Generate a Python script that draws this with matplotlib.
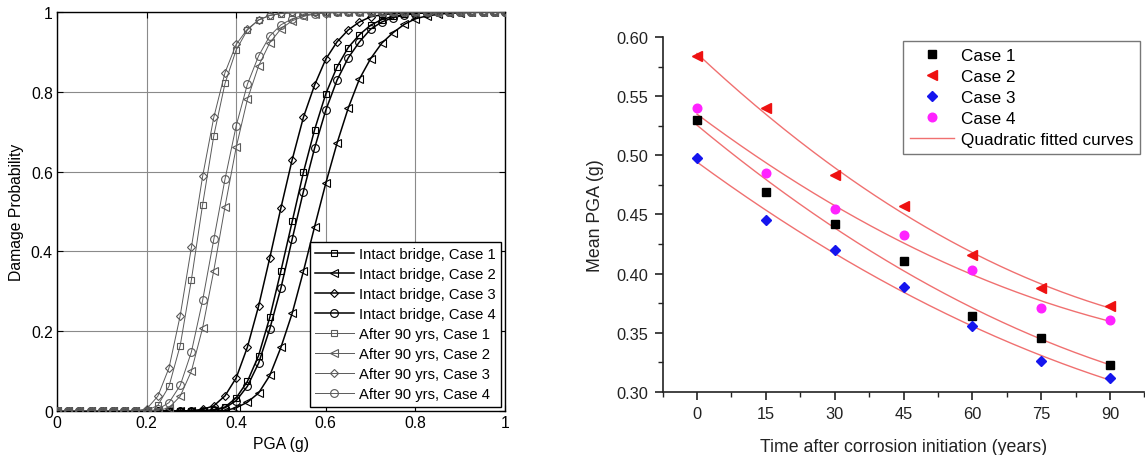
import numpy as np
import matplotlib
matplotlib.use("Agg")
import matplotlib.pyplot as plt
from matplotlib.ticker import MultipleLocator, FormatStrFormatter
from matplotlib.lines import Line2D

plt.rcParams['font.family'] = ['Liberation Sans', 'DejaVu Sans']

# ---------------- Left panel data: fragility curves ----------------
pga = [0, 0.025, 0.05, 0.075, 0.1, 0.125, 0.15, 0.175, 0.2, 0.225,
       0.25, 0.275, 0.3, 0.325, 0.35, 0.375, 0.4, 0.425, 0.45, 0.475,
       0.5, 0.525, 0.55, 0.575, 0.6, 0.625, 0.65, 0.675, 0.7, 0.725,
       0.75, 0.775, 0.8, 0.825, 0.85, 0.875, 0.9, 0.925, 0.95, 0.975, 1.0]

intact_case1 = [0, 0, 0, 0, 0, 0, 0, 0, 0, 0, 0, 0, 0, 0.001, 0.003, 0.010, 0.033, 0.074, 0.139, 0.235,
                0.352, 0.475, 0.598, 0.705, 0.795, 0.862, 0.911, 0.943, 0.967, 0.981,
                0.989, 0.994, 0.997, 0.998, 0.999, 1, 1, 1, 1, 1, 1]
intact_case2 = [0, 0, 0, 0, 0, 0, 0, 0, 0, 0, 0, 0, 0, 0, 0, 0.001, 0.008, 0.022, 0.045, 0.089,
                0.160, 0.245, 0.350, 0.462, 0.571, 0.671, 0.759, 0.832, 0.883, 0.922,
                0.948, 0.969, 0.983, 0.990, 0.994, 0.997, 0.998, 0.999, 1, 1, 1]
intact_case3 = [0, 0, 0, 0, 0, 0, 0, 0, 0, 0, 0, 0, 0.001, 0.004, 0.013, 0.038, 0.083, 0.160, 0.263, 0.384,
                0.510, 0.630, 0.736, 0.817, 0.882, 0.925, 0.955, 0.975, 0.988, 0.993,
                0.996, 0.998, 0.999, 1, 1, 1, 1, 1, 1, 1, 1]
intact_case4 = [0, 0, 0, 0, 0, 0, 0, 0, 0, 0, 0, 0, 0, 0, 0.002, 0.008, 0.026, 0.062, 0.120, 0.206,
                0.309, 0.431, 0.550, 0.659, 0.754, 0.829, 0.885, 0.925, 0.957, 0.975,
                0.986, 0.992, 0.996, 0.998, 0.999, 1, 1, 1, 1, 1, 1]
after90_case1 = [0, 0, 0, 0, 0, 0, 0, 0, 0.001, 0.014, 0.062, 0.164, 0.329, 0.517, 0.690, 0.821, 0.905, 0.955, 0.980, 0.991,
                 0.996, 0.998, 0.999, 1, 1, 1, 1, 1, 1, 1,
                 1, 1, 1, 1, 1, 1, 1, 1, 1, 1, 1]
after90_case2 = [0, 0, 0, 0, 0, 0, 0, 0, 0, 0.001, 0.008, 0.037, 0.100, 0.208, 0.352, 0.512, 0.661, 0.781, 0.865, 0.923,
                 0.958, 0.978, 0.989, 0.995, 0.998, 0.999, 1, 1, 1, 1,
                 1, 1, 1, 1, 1, 1, 1, 1, 1, 1, 1]
after90_case3 = [0, 0, 0, 0, 0, 0, 0, 0.001, 0.005, 0.037, 0.108, 0.239, 0.410, 0.588, 0.736, 0.848, 0.919, 0.957, 0.980, 0.992,
                 0.997, 0.999, 1, 1, 1, 1, 1, 1, 1, 1,
                 1, 1, 1, 1, 1, 1, 1, 1, 1, 1, 1]
after90_case4 = [0, 0, 0, 0, 0, 0, 0, 0, 0, 0.004, 0.021, 0.064, 0.148, 0.277, 0.430, 0.581, 0.715, 0.819, 0.890, 0.940,
                 0.968, 0.983, 0.992, 0.996, 0.998, 0.999, 1, 1, 1, 1,
                 1, 1, 1, 1, 1, 1, 1, 1, 1, 1, 1]

left_labels = ["Intact bridge, Case 1", "Intact bridge, Case 2", "Intact bridge, Case 3", "Intact bridge, Case 4",
               "After 90 yrs, Case 1", "After 90 yrs, Case 2", "After 90 yrs, Case 3", "After 90 yrs, Case 4"]
left_ticks = [0, 0.2, 0.4, 0.6, 0.8, 1.0]
left_ticklabels = ['0', '0.2', '0.4', '0.6', '0.8', '1']

# ---------------- Right panel data: mean PGA vs time ----------------
years = [0, 15, 30, 45, 60, 75, 90]
mean_case1 = [0.530, 0.469, 0.442, 0.411, 0.364, 0.346, 0.323]
mean_case2 = [0.584, 0.540, 0.483, 0.457, 0.416, 0.388, 0.373]
mean_case3 = [0.498, 0.445, 0.420, 0.389, 0.356, 0.326, 0.312]
mean_case4 = [0.540, 0.485, 0.455, 0.433, 0.403, 0.371, 0.361]
right_labels = ["Case 1", "Case 2", "Case 3", "Case 4"]

W, H = 1145, 456
fig = plt.figure(figsize=(W / 100, H / 100), dpi=100)

# ---------------- Left axes ----------------
axL = fig.add_axes([57 / W, (H - 412) / H, 448 / W, 399 / H])
series_left = [intact_case1, intact_case2, intact_case3, intact_case4,
               after90_case1, after90_case2, after90_case3, after90_case4]
markers = ['s', '<', 'D', 'o']
msizes = [4.8, 5.8, 4.4, 5.6]
for i, (ys, lab) in enumerate(zip(series_left, left_labels)):
    intact = i < 4
    col = 'black' if intact else '#5a5a5a'
    lw = 1.1 if intact else 0.7
    axL.plot(pga, ys, color=col, lw=lw, marker=markers[i % 4], ms=msizes[i % 4],
             mfc='none', mec=col, mew=0.8, label=lab, zorder=3)
axL.set_xlim(0, 1)
axL.set_ylim(0, 1)
axL.set_xticks(left_ticks)
axL.set_xticklabels(left_ticklabels)
axL.set_yticks(left_ticks)
axL.set_yticklabels(left_ticklabels)
axL.grid(True, color='#8a8a8a', lw=0.8, ls='-')
axL.tick_params(direction='in', top=True, right=True, length=4, width=0.8, labelsize=11.3, pad=3)
for s in axL.spines.values():
    s.set_linewidth(1.0)
axL.set_xlabel('PGA (g)', fontsize=11.3, labelpad=4)
axL.set_ylabel('Damage Probability', fontsize=11.3, labelpad=5)
legL = axL.legend(loc='lower right', fontsize=10.6, frameon=True, fancybox=False,
                  edgecolor='black', framealpha=1, borderaxespad=0.3,
                  handlelength=2.6, handletextpad=0.35, labelspacing=0.41, borderpad=0.35)
legL.get_frame().set_linewidth(1.0)

# ---------------- Right axes ----------------
x0_px, x90_px = 697, 1110
ppy = (x90_px - x0_px) / 90
left_px = x0_px - 7.5 * ppy
right_px = x0_px + 97.5 * ppy
axR = fig.add_axes([left_px / W, (H - 393) / H, (right_px - left_px) / W, (393 - 38) / H])

fit_x = np.linspace(0, 90, 200)
series_right = [mean_case1, mean_case2, mean_case3, mean_case4]
for ys in series_right:
    coef = np.polyfit(years, ys, 2)
    axR.plot(fit_x, np.polyval(coef, fit_x), color='#f07070', lw=1.0, zorder=2)

r_colors = ['black', '#ee1111', '#1515ee', '#ff22ff']
r_markers = ['s', '<', 'D', 'o']
r_sizes = [5.4, 6.8, 5.2, 6.2]
handles = []
for ys, c, m, s, lab in zip(series_right, r_colors, r_markers, r_sizes, right_labels):
    h, = axR.plot(years, ys, ls='none', marker=m, ms=s, color=c, mec=c, label=lab, zorder=3)
    handles.append(h)
handles.append(Line2D([], [], color='#f07070', lw=1.0, label='Quadratic fitted curves'))

axR.set_xlim(-7.5, 97.5)
axR.set_ylim(0.30, 0.60)
axR.set_xticks(years)
axR.xaxis.set_minor_locator(MultipleLocator(7.5))
axR.yaxis.set_major_locator(MultipleLocator(0.05))
axR.yaxis.set_minor_locator(MultipleLocator(0.025))
axR.yaxis.set_major_formatter(FormatStrFormatter('%.2f'))
axR.spines['top'].set_visible(False)
axR.spines['right'].set_visible(False)
for s in ['left', 'bottom']:
    axR.spines[s].set_linewidth(1.2)
    axR.spines[s].set_color('#222222')
axR.tick_params(which='major', direction='out', length=6, width=1.2, labelsize=11.8, colors='#222222', pad=4)
axR.tick_params(which='minor', direction='out', length=3.5, width=1.0, colors='#222222')
axR.set_xlabel('Time after corrosion initiation (years)', fontsize=12.8, color='#222222', labelpad=12)
axR.set_ylabel('Mean PGA (g)', fontsize=12.8, color='#222222', labelpad=9)
legR = axR.legend(handles=handles, loc='upper right',
                  bbox_to_anchor=((1140 - left_px) / (right_px - left_px), (393 - 42) / 355),
                  fontsize=12.3, frameon=True, fancybox=False, edgecolor='#777777', framealpha=1,
                  handlelength=2.6, handletextpad=0.4, labelspacing=0.36, borderpad=0.4, borderaxespad=0)
legR.get_frame().set_linewidth(1.0)

fig.savefig('out.png', dpi=100)
